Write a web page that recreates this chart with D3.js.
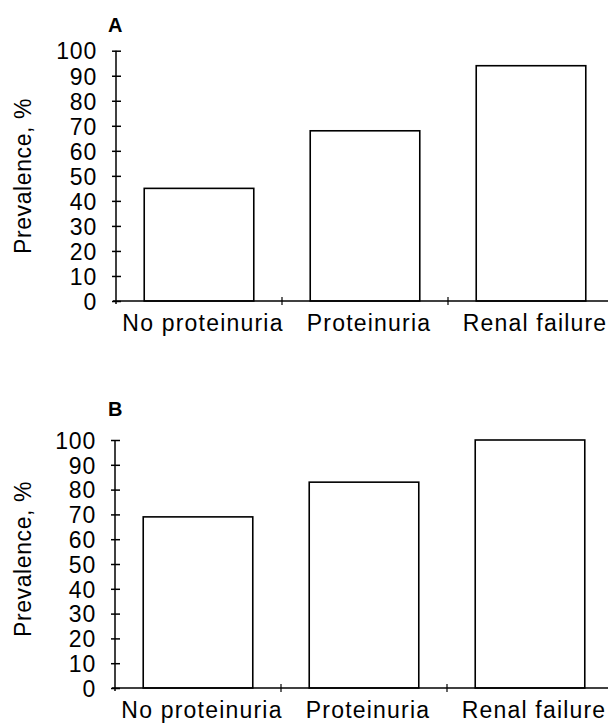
<!DOCTYPE html>
<html>
<head>
<meta charset="utf-8">
<script src="https://cdn.jsdelivr.net/npm/d3@7"></script>
<style>
  body { margin: 0; background: #fff; }
  text { font-family: "Liberation Sans", Arial, sans-serif; fill: #000; }
</style>
</head>
<body>
<div id="chart"></div>
<script>
// categorie e valori
const categories = ['No proteinuria', 'Proteinuria', 'Renal failure'];
const prevalenceA = [45, 68, 94];
const prevalenceB = [69, 83, 100];
const yTicks = [0, 10, 20, 30, 40, 50, 60, 70, 80, 90, 100];

const W = 608, H = 723;

const svg = d3.select('#chart')
  .append('svg')
  .attr('width', W)
  .attr('height', H);

// un pannello per ogni serie
const panels = [
  { letter: 'A', values: prevalenceA, top: 50.7, bottom: 301, axisX: 116, letterY: 32, labelY: 176 },
  { letter: 'B', values: prevalenceB, top: 440, bottom: 688, axisX: 115, letterY: 416, labelY: 559 }
];

panels.forEach(function (p) {
  const g = svg.append('g');

  // scala y
  const y = d3.scaleLinear().domain([0, 100]).range([p.bottom, p.top]);

  // bande per le categorie (i trattini dell'asse x stanno ai confini)
  const band = d3.scaleBand().domain(categories).range([p.axisX, p.axisX + 498]).padding(0);
  const x = d3.scaleBand().domain(categories).range([p.axisX, p.axisX + 498])
    .paddingInner(0.34).paddingOuter(0.17);

  // barre
  g.append('g')
    .selectAll('rect')
    .data(p.values)
    .join('rect')
    .attr('x', (d, i) => x(categories[i]))
    .attr('y', d => y(d))
    .attr('width', x.bandwidth())
    .attr('height', d => y(0) - y(d))
    .attr('fill', '#fff')
    .attr('stroke', '#000')
    .attr('stroke-width', 1.6);

  // asse y
  const yAxis = g.append('g')
    .attr('transform', `translate(${p.axisX},0)`)
    .call(d3.axisLeft(y).tickValues(yTicks).tickSize(4).tickPadding(15));
  yAxis.select('.domain').remove();
  yAxis.append('line')
    .attr('x1', 0).attr('x2', 0)
    .attr('y1', y(100)).attr('y2', y(0) + 3)
    .attr('stroke', '#000').attr('stroke-width', 1.5);
  yAxis.selectAll('.tick line')
    .attr('x1', -4).attr('x2', 5)
    .attr('stroke', '#000').attr('stroke-width', 1.5);
  yAxis.selectAll('.tick text')
    .attr('fill', '#000')
    .style('font-size', '23px')
    .style('letter-spacing', '0.8px')
    .attr('dy', '0.36em');

  // asse x
  g.append('line')
    .attr('x1', p.axisX - 3).attr('x2', W)
    .attr('y1', y(0)).attr('y2', y(0))
    .attr('stroke', '#000').attr('stroke-width', 1.5);
  g.append('g')
    .selectAll('line')
    .data(categories.slice(0, 2))
    .join('line')
    .attr('x1', d => band(d) + band.step())
    .attr('x2', d => band(d) + band.step())
    .attr('y1', y(0) - 4)
    .attr('y2', y(0) + 4)
    .attr('stroke', '#000')
    .attr('stroke-width', 1.2);

  g.append('g')
    .selectAll('text')
    .data(categories)
    .join('text')
    .attr('x', d => band(d) + band.step() / 2 + 4)
    .attr('y', y(0) + 29.5)
    .attr('text-anchor', 'middle')
    .style('font-size', '23px')
    .style('letter-spacing', '1.2px')
    .text(d => d);

  // titolo asse y
  g.append('text')
    .attr('transform', `translate(31,${p.labelY}) rotate(-90)`)
    .attr('text-anchor', 'middle')
    .style('font-size', '23px')
    .style('letter-spacing', '0.6px')
    .text('Prevalence, %');

  // lettera del pannello
  g.append('text')
    .attr('x', 108)
    .attr('y', p.letterY)
    .style('font-size', '20px')
    .style('font-weight', 'bold')
    .text(p.letter);
});
</script>
</body>
</html>
